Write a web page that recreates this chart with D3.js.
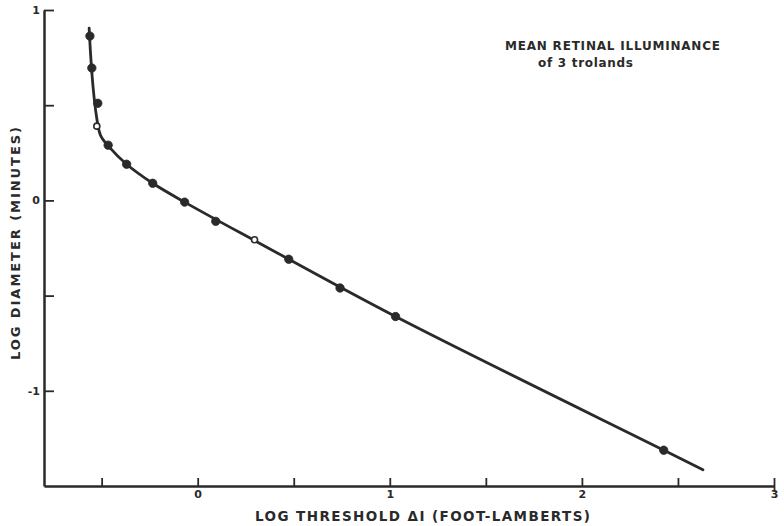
<!DOCTYPE html>
<html>
<head>
<meta charset="utf-8">
<script src="https://cdn.jsdelivr.net/npm/d3@7"></script>
<style>
  html, body { margin: 0; padding: 0; background: #fff; }
  svg { display: block; }
  text { font-family: "DejaVu Sans", "Liberation Sans", sans-serif; font-weight: bold; fill: #2a2a2a; }
</style>
</head>
<body>
<script>
// Measured points: log threshold ΔI (foot-lamberts) vs log diameter (minutes)
const logThreshold = [-0.561, -0.551, -0.52, -0.525, -0.466, -0.37, -0.234, -0.068, 0.094, 0.296, 0.474, 0.741, 1.03, 2.426];
const logDiameter  = [0.863, 0.695, 0.51, 0.39, 0.29, 0.19, 0.09, -0.009, -0.11, -0.207, -0.309, -0.46, -0.61, -1.312];
const openMarker   = [false, false, false, true, false, false, false, false, false, true, false, false, false, false];

// Smooth fitted curve drawn through the data
const fitX = [-0.565, -0.557, -0.545, -0.528, -0.505, -0.46, -0.37, -0.234, -0.068, 0.3, 1.03, 2.426, 2.63];
const fitY = [0.905, 0.76, 0.6, 0.45, 0.34, 0.28, 0.19, 0.09, -0.009, -0.213, -0.61, -1.312, -1.415];

// Axis ticks and labels
const xTicks = [-0.5, 0, 0.5, 1, 1.5, 2, 2.5, 3];
const xTickLabels = { "0": "0", "1": "1", "2": "2", "3": "3" };
const yTicks = [-1, -0.5, 0, 0.5, 1];
const yTickLabels = { "-1": "-1", "0": "0", "1": "1" };

const xTitle = "LOG THRESHOLD \u0394I (FOOT-LAMBERTS)";
const yTitle = "LOG DIAMETER (MINUTES)";
const noteLines = ["MEAN RETINAL ILLUMINANCE", "of 3 trolands"];

const W = 784, H = 526;
const ink = "#2a2a2a";

const svg = d3.select("body").append("svg").attr("width", W).attr("height", H);

const x = d3.scaleLinear().domain([-0.8, 3]).range([44, 774]);
const y = d3.scaleLinear().domain([-1.5, 1]).range([486, 10]);

// X axis with inward ticks
const xAxis = d3.axisBottom(x)
  .tickValues(xTicks)
  .tickSizeInner(-8)
  .tickSizeOuter(0)
  .tickPadding(4)
  .tickFormat(d => xTickLabels[String(d)] || "");
const gx = svg.append("g").attr("transform", `translate(0,${y(-1.5)})`).call(xAxis);
gx.select(".domain").attr("stroke", ink).attr("stroke-width", 2.5);
gx.selectAll(".tick line").attr("stroke", ink).attr("stroke-width", 1.8);
gx.selectAll(".tick text").attr("font-size", 11).attr("fill", ink)
  .style("font-family", "'DejaVu Sans', sans-serif").style("font-weight", "bold");
// end tick at 3 runs through the axis
gx.selectAll(".tick").filter(d => d === 3).select("line").attr("y2", -8).attr("y1", 6);

// Y axis with inward ticks
const yAxis = d3.axisLeft(y)
  .tickValues(yTicks)
  .tickSizeInner(-10)
  .tickSizeOuter(0)
  .tickPadding(4)
  .tickFormat(d => yTickLabels[String(d)] || "");
const gy = svg.append("g").attr("transform", `translate(${x(-0.8)},0)`).call(yAxis);
gy.select(".domain").attr("stroke", ink).attr("stroke-width", 2.5);
gy.selectAll(".tick line").attr("stroke", ink).attr("stroke-width", 1.8);
gy.selectAll(".tick text").attr("font-size", 11).attr("fill", ink)
  .style("font-family", "'DejaVu Sans', sans-serif").style("font-weight", "bold");

// Axis titles
svg.append("text")
  .attr("x", 255).attr("y", 521)
  .attr("font-size", 13.5)
  .attr("textLength", 335)
  .attr("lengthAdjust", "spacing")
  .text(xTitle);

svg.append("text")
  .attr("transform", `translate(20,360) rotate(-90)`)
  .attr("font-size", 13)
  .attr("textLength", 233)
  .attr("lengthAdjust", "spacing")
  .text(yTitle);

// Annotation
svg.append("text")
  .attr("x", 505).attr("y", 50)
  .attr("font-size", 12)
  .attr("textLength", 215)
  .attr("lengthAdjust", "spacing")
  .text(noteLines[0]);
svg.append("text")
  .attr("x", 538).attr("y", 67)
  .attr("font-size", 12)
  .attr("textLength", 95)
  .attr("lengthAdjust", "spacing")
  .text(noteLines[1]);

// Fitted curve
const fit = fitX.map((v, i) => [v, fitY[i]]);
svg.append("path")
  .datum(fit)
  .attr("fill", "none")
  .attr("stroke", ink)
  .attr("stroke-width", 2.8)
  .attr("stroke-linejoin", "round")
  .attr("stroke-linecap", "round")
  .attr("d", d3.line().x(d => x(d[0])).y(d => y(d[1])).curve(d3.curveCatmullRom.alpha(0.5)));

// Data markers
const pts = logThreshold.map((v, i) => ({ x: v, y: logDiameter[i], open: openMarker[i] }));
svg.append("g").selectAll("circle")
  .data(pts)
  .join("circle")
  .attr("cx", d => x(d.x))
  .attr("cy", d => y(d.y))
  .attr("r", d => d.open ? 3 : 4.2)
  .attr("fill", d => d.open ? "#fff" : ink)
  .attr("stroke", ink)
  .attr("stroke-width", d => d.open ? 1.6 : 0.8);
</script>
</body>
</html>
